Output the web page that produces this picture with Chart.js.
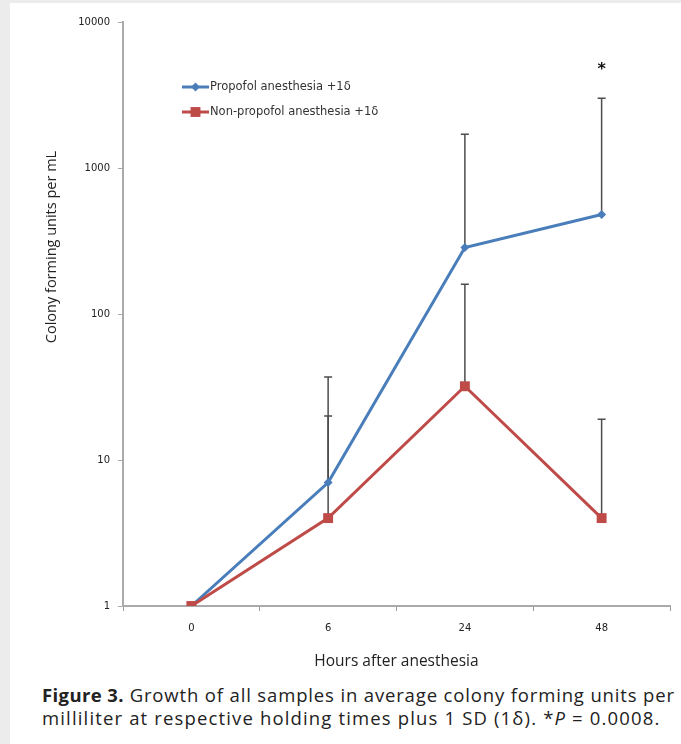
<!DOCTYPE html>
<html>
<head>
<meta charset="utf-8">
<script src="https://cdn.jsdelivr.net/npm/chart.js@4.4.1/dist/chart.umd.min.js"></script>
<style>
  html, body { margin: 0; padding: 0; background: #ececec; }
  #panel { position: absolute; left: 10px; top: 3px; width: 671px; height: 741px; background: #fff; }
  #wrap { position: absolute; left: 0; top: 0; width: 671px; height: 672px; }
  #caption { position: absolute; left: 32px; top: 680px; font-family: "Open Sans", sans-serif; font-size: 18.5px; letter-spacing: 0.85px; line-height: 23px; color: #222; white-space: nowrap; }
  #caption b { font-weight: bold; letter-spacing: 0.4px; }
  #caption .l2 { letter-spacing: 1.15px; }
</style>
</head>
<body>
<div id="panel">
  <div id="wrap"><canvas id="canvas"></canvas></div>
  <div id="caption"><b>Figure 3.</b> Growth of all samples in average colony forming units per<br><span class="l2">milliliter at respective holding times plus 1 SD (1δ). *<i>P</i> = 0.0008.</span></div>
</div>
<script>
const hours = ["0", "6", "24", "48"];
const propofolMean = [1, 7, 285, 480];
const propofolUpper = [null, 37, 1700, 3000];
const nonPropofolMean = [1, 4, 32, 4];
const nonPropofolUpper = [null, 20, 160, 19];
const significance = ["", "", "", "*"];
const yTicks = [1, 10, 100, 1000, 10000];

const blue = "#4a7ebb";
const red = "#be4b48";

// vertical +1 SD bars with a small cap
const errorBars = {
  id: "errorBars",
  beforeDatasetsDraw(chart) {
    const ctx = chart.ctx;
    const y = chart.scales.y;
    ctx.save();
    ctx.strokeStyle = "#4d4d4d";
    ctx.lineWidth = 1.5;
    chart.data.datasets.forEach((ds, i) => {
      const meta = chart.getDatasetMeta(i);
      ds.upper.forEach((u, j) => {
        if (u == null) return;
        const pt = meta.data[j];
        const top = y.getPixelForValue(u);
        ctx.beginPath();
        ctx.moveTo(pt.x, pt.y);
        ctx.lineTo(pt.x, top);
        ctx.moveTo(pt.x - 4, top);
        ctx.lineTo(pt.x + 4, top);
        ctx.stroke();
      });
    });
    ctx.restore();
  },
  afterDatasetsDraw(chart) {
    const ctx = chart.ctx;
    const meta = chart.getDatasetMeta(0);
    ctx.save();
    ctx.fillStyle = "#111";
    ctx.font = "bold 16px 'DejaVu Sans'";
    ctx.textAlign = "center";
    ctx.textBaseline = "middle";
    significance.forEach((s, j) => {
      if (!s) return;
      const top = chart.scales.y.getPixelForValue(propofolUpper[j]);
      ctx.fillText(s, meta.data[j].x, top - 28);
    });
    ctx.restore();
  }
};

// legend sitting inside the plot + off-centre y title
const extras = {
  id: "extras",
  afterDraw(chart) {
    const ctx = chart.ctx;
    ctx.save();
    const rows = [
      { color: blue, style: "rectRot", r: 4.5, text: "Propofol anesthesia +1δ", y: 84 },
      { color: red, style: "rect", r: 7, text: "Non-propofol anesthesia +1δ", y: 109 }
    ];
    rows.forEach(row => {
      ctx.strokeStyle = row.color;
      ctx.lineWidth = 3;
      ctx.beginPath();
      ctx.moveTo(172, row.y);
      ctx.lineTo(199, row.y);
      ctx.stroke();
      ctx.fillStyle = row.color;
      Chart.helpers.drawPoint(ctx, { pointStyle: row.style, radius: row.r, rotation: 0, borderWidth: 0 }, 185.5, row.y);
      ctx.fillStyle = "#333";
      ctx.font = "11.5px 'DejaVu Sans'";
      ctx.textAlign = "left";
      ctx.textBaseline = "middle";
      ctx.fillText(row.text, 200, row.y);
    });

    ctx.translate(42, 244);
    ctx.rotate(-Math.PI / 2);
    ctx.fillStyle = "#222";
    ctx.font = "14.5px 'Open Sans'";
    ctx.textAlign = "center";
    ctx.textBaseline = "middle";
    ctx.fillText("Colony forming units per mL", 0, 0);
    ctx.restore();
  }
};

const ctx = document.getElementById("canvas").getContext("2d");

new Chart(ctx, {
  type: "line",
  data: {
    labels: hours,
    datasets: [
      {
        label: "Propofol anesthesia +1δ",
        data: propofolMean,
        upper: propofolUpper,
        borderColor: blue,
        backgroundColor: blue,
        pointBackgroundColor: blue,
        borderWidth: 3,
        pointStyle: "rectRot",
        pointRadius: 4.5,
        pointBorderWidth: 0,
        order: 1
      },
      {
        label: "Non-propofol anesthesia +1δ",
        data: nonPropofolMean,
        upper: nonPropofolUpper,
        borderColor: red,
        backgroundColor: red,
        pointBackgroundColor: red,
        borderWidth: 3,
        pointStyle: "rect",
        pointRadius: 7,
        pointBorderWidth: 0,
        order: 0
      }
    ]
  },
  options: {
    responsive: true,
    maintainAspectRatio: false,
    animation: false,
    layout: { padding: { left: 0, right: 11, top: 19, bottom: 0 } },
    plugins: {
      legend: { display: false },
      tooltip: { enabled: false }
    },
    scales: {
      x: {
        offset: true,
        grid: { display: true, drawOnChartArea: false, offset: true, tickLength: 5, color: "#999" },
        border: { color: "#aaa", width: 2 },
        ticks: { color: "#222", padding: 11, font: { family: "DejaVu Sans", size: 10 } },
        title: {
          display: true,
          text: "Hours after anesthesia",
          color: "#222",
          font: { family: "Open Sans", size: 15.5 },
          padding: { top: 4, bottom: 4 }
        },
        afterFit(scale) { scale.height = 69; }
      },
      y: {
        type: "logarithmic",
        min: 1,
        max: 10000,
        grid: { display: true, drawOnChartArea: false, tickLength: 5, color: "#aaa" },
        border: { color: "#aaa", width: 2 },
        ticks: {
          color: "#222",
          padding: 8,
          font: { family: "DejaVu Sans", size: 10 },
          callback: v => String(v)
        },
        afterBuildTicks(scale) { scale.ticks = yTicks.map(v => ({ value: v })); },
        afterFit(scale) { scale.width = 113; }
      }
    }
  },
  plugins: [errorBars, extras]
});
</script>
</body>
</html>
